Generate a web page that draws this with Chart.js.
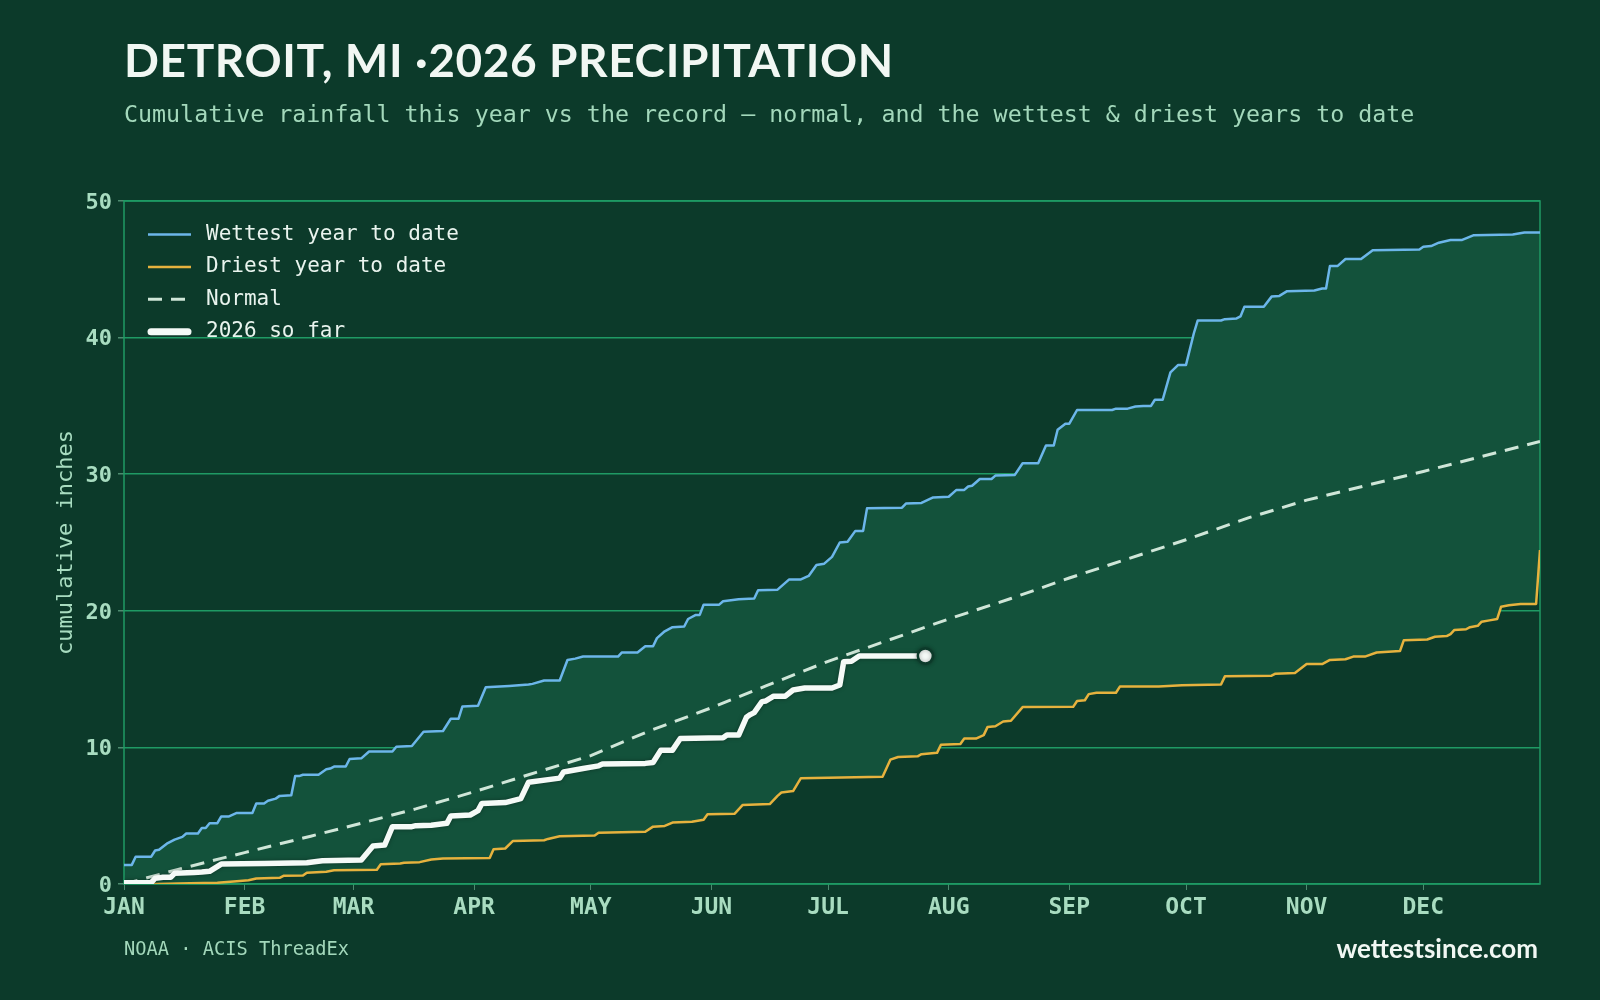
<!DOCTYPE html>
<html>
<head>
<meta charset="utf-8">
<title>Detroit, MI 2026 precipitation</title>
<script src="https://cdn.jsdelivr.net/npm/chart.js@4.4.1/dist/chart.umd.min.js"></script>
<style>
    html, body { margin: 0; padding: 0; background: #0c3a2a; }
    #wrap { position: relative; width: 1600px; height: 1000px; overflow: hidden; }
    #chart { position: absolute; left: 0; top: 0; }
    .title {
        position: absolute; left: 124px; top: 37px;
        font-family: Lato, sans-serif; font-weight: 700; font-size: 46px;
        letter-spacing: 0.6px;
        line-height: 1; color: #f1f7f3; white-space: nowrap;
    }
    .subtitle {
        position: absolute; left: 124px; top: 102px;
        font-family: "DejaVu Sans Mono", monospace; font-size: 23.3px;
        line-height: 1; color: #a3d8bb; white-space: nowrap;
    }
    .source {
        position: absolute; left: 124px; top: 940px;
        font-family: "DejaVu Sans Mono", monospace; font-size: 18.7px;
        line-height: 1; color: #a3d8bb; white-space: nowrap;
    }
    .site {
        position: absolute; right: 62px; top: 935px;
        font-family: Lato, sans-serif; font-weight: 700; font-size: 26px;
        line-height: 1; color: #f1f7f3; white-space: nowrap;
    }
</style>
</head>
<body>
<div id="wrap">
    <canvas id="chart" width="1600" height="1000"></canvas>
    <div class="title">DETROIT, MI ·2026 PRECIPITATION</div>
    <div class="subtitle">Cumulative rainfall this year vs the record — normal, and the wettest &amp; driest years to date</div>
    <div class="source">NOAA · ACIS ThreadEx</div>
    <div class="site">wettestsince.com</div>
</div>
<script>
// Month ticks (day of year, 0 = Jan 1)
const monthStarts = [0, 31, 59, 90, 120, 151, 181, 212, 243, 273, 304, 334];
const monthLabels = ['JAN', 'FEB', 'MAR', 'APR', 'MAY', 'JUN', 'JUL', 'AUG', 'SEP', 'OCT', 'NOV', 'DEC'];

// Wettest year to date (day of year, cumulative inches)
const wettestDays = [0, 2, 3, 7, 8, 9, 11, 13, 15, 16, 19, 20, 21, 22, 24, 25, 27, 29, 33, 34, 36, 37, 39, 40, 43, 44, 45, 46, 50, 52, 53, 54, 57, 58, 61, 63, 69, 70, 74, 75, 77, 82, 84, 86, 87, 91, 93, 99, 104, 105, 108, 112, 114, 116, 118, 127, 128, 132, 134, 136, 137, 139, 141, 144, 145, 147, 148, 149, 153, 154, 158, 162, 163, 168, 171, 174, 176, 178, 180, 182, 184, 186, 188, 190, 191, 200, 201, 205, 208, 212, 214, 216, 217, 218, 220, 223, 224, 229, 231, 235, 237, 239, 240, 242, 243, 245, 254, 255, 258, 260, 262, 264, 265, 267, 269, 271, 273, 275, 276, 282, 283, 286, 287, 288, 293, 295, 297, 299, 306, 308, 309, 310, 312, 314, 318, 321, 333, 334, 336, 338, 341, 344, 347, 357, 360, 364];
const wettestInches = [1.4, 1.4, 2.0, 2.0, 2.45, 2.5, 2.95, 3.25, 3.45, 3.7, 3.7, 4.1, 4.1, 4.45, 4.45, 4.95, 4.95, 5.2, 5.2, 5.9, 5.9, 6.1, 6.25, 6.45, 6.5, 7.9, 7.9, 8.0, 8.0, 8.4, 8.45, 8.6, 8.6, 9.15, 9.2, 9.7, 9.7, 10.05, 10.1, 10.45, 11.15, 11.2, 12.1, 12.1, 13.0, 13.05, 14.4, 14.5, 14.6, 14.65, 14.9, 14.9, 16.4, 16.5, 16.65, 16.65, 16.95, 16.95, 17.4, 17.4, 18.0, 18.5, 18.8, 18.85, 19.4, 19.7, 19.7, 20.45, 20.45, 20.7, 20.85, 20.9, 21.5, 21.55, 22.3, 22.3, 22.55, 23.35, 23.45, 23.95, 25.0, 25.05, 25.85, 25.85, 27.5, 27.55, 27.85, 27.9, 28.3, 28.35, 28.85, 28.85, 29.1, 29.15, 29.65, 29.65, 29.9, 29.95, 30.8, 30.8, 32.1, 32.1, 33.25, 33.7, 33.7, 34.7, 34.7, 34.8, 34.8, 34.95, 35.0, 35.0, 35.45, 35.45, 37.45, 38.0, 38.0, 40.3, 41.25, 41.25, 41.35, 41.4, 41.55, 42.25, 42.25, 43.0, 43.05, 43.4, 43.45, 43.6, 43.6, 45.25, 45.25, 45.75, 45.75, 46.4, 46.45, 46.65, 46.7, 46.95, 47.15, 47.15, 47.5, 47.55, 47.7, 47.7];

// Driest year to date
const driestDays = [0, 8, 17, 24, 29, 32, 34, 40, 41, 46, 47, 52, 54, 65, 66, 71, 72, 76, 79, 82, 94, 95, 98, 100, 108, 109, 112, 121, 122, 134, 136, 139, 141, 146, 149, 150, 157, 159, 166, 168, 169, 172, 174, 195, 197, 199, 204, 205, 209, 210, 215, 216, 219, 221, 222, 224, 226, 228, 231, 244, 245, 247, 248, 250, 255, 256, 266, 272, 282, 283, 295, 296, 301, 304, 308, 310, 314, 316, 319, 322, 328, 329, 335, 337, 340, 341, 342, 345, 346, 348, 349, 351, 353, 354, 356, 359, 363, 364];
const driestInches = [0, 0, 0.05, 0.1, 0.2, 0.27, 0.4, 0.45, 0.6, 0.62, 0.83, 0.9, 1.0, 1.05, 1.45, 1.5, 1.56, 1.6, 1.8, 1.87, 1.9, 2.55, 2.6, 3.15, 3.2, 3.3, 3.5, 3.55, 3.75, 3.82, 4.2, 4.25, 4.5, 4.55, 4.7, 5.1, 5.15, 5.78, 5.85, 6.45, 6.7, 6.8, 7.75, 7.85, 9.1, 9.3, 9.35, 9.5, 9.6, 10.2, 10.25, 10.65, 10.65, 10.9, 11.5, 11.55, 11.9, 11.95, 12.95, 12.97, 13.4, 13.45, 13.9, 14.0, 14.0, 14.45, 14.45, 14.55, 14.6, 15.2, 15.25, 15.4, 15.45, 16.1, 16.1, 16.4, 16.45, 16.65, 16.65, 16.95, 17.05, 17.85, 17.9, 18.1, 18.15, 18.3, 18.6, 18.65, 18.8, 18.9, 19.2, 19.3, 19.4, 20.3, 20.4, 20.5, 20.5, 24.45];

// Normal
const normalDays = [0, 15, 31, 48, 59, 75, 90, 104, 120, 135, 151, 165, 181, 197, 212, 228, 243, 258, 273, 289, 304, 319, 334, 349, 364];
const normalInches = [0, 1.15, 2.3, 3.5, 4.3, 5.5, 6.75, 8.0, 9.4, 11.2, 12.9, 14.5, 16.3, 17.9, 19.4, 20.9, 22.4, 23.8, 25.2, 26.8, 28.1, 29.15, 30.2, 31.3, 32.4];

// 2026 so far
const thisYearDays = [0, 7, 8, 9, 10, 12, 13, 18, 20, 22, 25, 36, 47, 51, 61, 64, 67, 69, 74, 75, 79, 83, 84, 89, 91, 92, 98, 102, 104, 112, 113, 118, 122, 123, 134, 136, 138, 141, 143, 154, 155, 158, 160, 161, 162, 164, 165, 167, 170, 172, 175, 182, 184, 185, 187, 189, 206];
const thisYearInches = [0.1, 0.1, 0.42, 0.45, 0.5, 0.5, 0.78, 0.85, 0.88, 0.93, 1.46, 1.5, 1.56, 1.7, 1.76, 2.78, 2.85, 4.2, 4.2, 4.27, 4.3, 4.44, 4.98, 5.05, 5.37, 5.9, 5.96, 6.25, 7.45, 7.75, 8.2, 8.45, 8.65, 8.78, 8.83, 8.9, 9.8, 9.8, 10.65, 10.7, 10.9, 10.9, 12.2, 12.4, 12.55, 13.35, 13.4, 13.75, 13.75, 14.2, 14.35, 14.35, 14.57, 16.27, 16.3, 16.69, 16.69];

const bgColor = '#0c3a2a';
const gridColor = '#1f9a64';
const labelColor = '#a8dcc0';

function toPoints(days, values) {
    return days.map((d, i) => ({ x: d, y: values[i] }));
}

// Frame round the plot area
const framePlugin = {
    id: 'frame',
    beforeDatasetsDraw(chart) {
        const { ctx, chartArea: a } = chart;
        ctx.save();
        ctx.strokeStyle = gridColor;
        ctx.lineWidth = 1.5;
        ctx.strokeRect(a.left, a.top, a.right - a.left, a.bottom - a.top);
        ctx.restore();
    }
};

// Soft shadow under the 2026 line
const shadowPlugin = {
    id: 'lineShadow',
    beforeDatasetDraw(chart, args) {
        if (args.meta.label !== '2026 so far') return;
        const ctx = chart.ctx;
        ctx.save();
        ctx.shadowColor = 'rgba(0, 0, 0, 0.35)';
        ctx.shadowBlur = 4;
    },
    afterDatasetDraw(chart, args) {
        if (args.meta.label !== '2026 so far') return;
        chart.ctx.restore();
    }
};

// Legend drawn inside the top-left corner of the plot
const insideLegend = {
    id: 'insideLegend',
    afterDraw(chart) {
        const ctx = chart.ctx;
        const x0 = 148, x1 = 191, textX = 206;
        let y = 234.5;
        ctx.save();
        chart.data.datasets.forEach(ds => {
            const thick = ds.legendWidth > 4;
            ctx.beginPath();
            ctx.strokeStyle = ds.borderColor;
            ctx.lineWidth = ds.legendWidth || ds.borderWidth;
            ctx.lineCap = thick ? 'round' : 'butt';
            ctx.setLineDash(ds.borderDash || []);
            ctx.moveTo(x0 + (thick ? 3 : 0), y);
            ctx.lineTo(x1 - (thick ? 3 : 0), y);
            ctx.stroke();
            ctx.setLineDash([]);
            ctx.fillStyle = '#e9f4ee';
            ctx.font = '21px "DejaVu Sans Mono"';
            ctx.textBaseline = 'middle';
            ctx.fillText(ds.label, textX, y);
            y += 32.4;
        });
        ctx.restore();
    }
};

const lastIndex = thisYearDays.length - 1;

new Chart(document.getElementById('chart'), {
    type: 'line',
    data: {
        datasets: [
            {
                label: 'Wettest year to date',
                data: toPoints(wettestDays, wettestInches),
                borderColor: '#6cb6ea',
                borderWidth: 2.5,
                backgroundColor: '#13523b',
                fill: '+1',
                order: 2
            },
            {
                label: 'Driest year to date',
                data: toPoints(driestDays, driestInches),
                borderColor: '#e6b23e',
                borderWidth: 2.5,
                fill: false,
                order: 3
            },
            {
                label: 'Normal',
                data: toPoints(normalDays, normalInches),
                borderColor: '#cfe6d8',
                borderWidth: 3,
                borderDash: [14, 9],
                fill: false,
                order: 1
            },
            {
                label: '2026 so far',
                data: toPoints(thisYearDays, thisYearInches),
                borderColor: '#f5faf7',
                borderWidth: 5.5,
                legendWidth: 7,
                fill: false,
                order: 0,
                pointRadius: ctx => ctx.dataIndex === lastIndex ? 7.5 : 0,
                pointBackgroundColor: '#f5faf7',
                pointBorderColor: bgColor,
                pointBorderWidth: 2.5
            }
        ]
    },
    options: {
        responsive: false,
        animation: false,
        devicePixelRatio: 1,
        layout: { padding: { top: 201, right: 60, bottom: 76, left: 40 } },
        elements: {
            point: { radius: 0, hoverRadius: 0 },
            line: { tension: 0, borderJoinStyle: 'round' }
        },
        plugins: {
            legend: { display: false },
            tooltip: { enabled: false },
            filler: { drawTime: 'beforeDatasetsDraw' }
        },
        scales: {
            x: {
                type: 'linear',
                min: 0,
                max: 364,
                afterBuildTicks: scale => {
                    scale.ticks = monthStarts.map(v => ({ value: v }));
                },
                afterFit: scale => { scale.height = 40; },
                ticks: {
                    autoSkip: false,
                    maxRotation: 0,
                    padding: 4,
                    color: labelColor,
                    font: { family: 'DejaVu Sans Mono', weight: 'bold', size: 23 },
                    callback: (value, index) => monthLabels[index]
                },
                grid: { drawOnChartArea: false, tickLength: 6, color: '#4d8a6f' },
                border: { display: false }
            },
            y: {
                min: 0,
                max: 50,
                afterFit: scale => { scale.width = 84; },
                ticks: {
                    stepSize: 10,
                    padding: 6,
                    labelOffset: 2,
                    color: labelColor,
                    font: { family: 'DejaVu Sans Mono', weight: 'bold', size: 22 }
                },
                grid: { color: gridColor, lineWidth: 1.5, tickLength: 6, tickColor: '#4d8a6f' },
                border: { display: false },
                title: {
                    display: true,
                    text: 'cumulative inches',
                    color: labelColor,
                    padding: { top: 13, bottom: 0 },
                    font: { family: 'DejaVu Sans Mono', size: 22 }
                }
            }
        }
    },
    plugins: [framePlugin, shadowPlugin, insideLegend]
});
</script>
</body>
</html>
